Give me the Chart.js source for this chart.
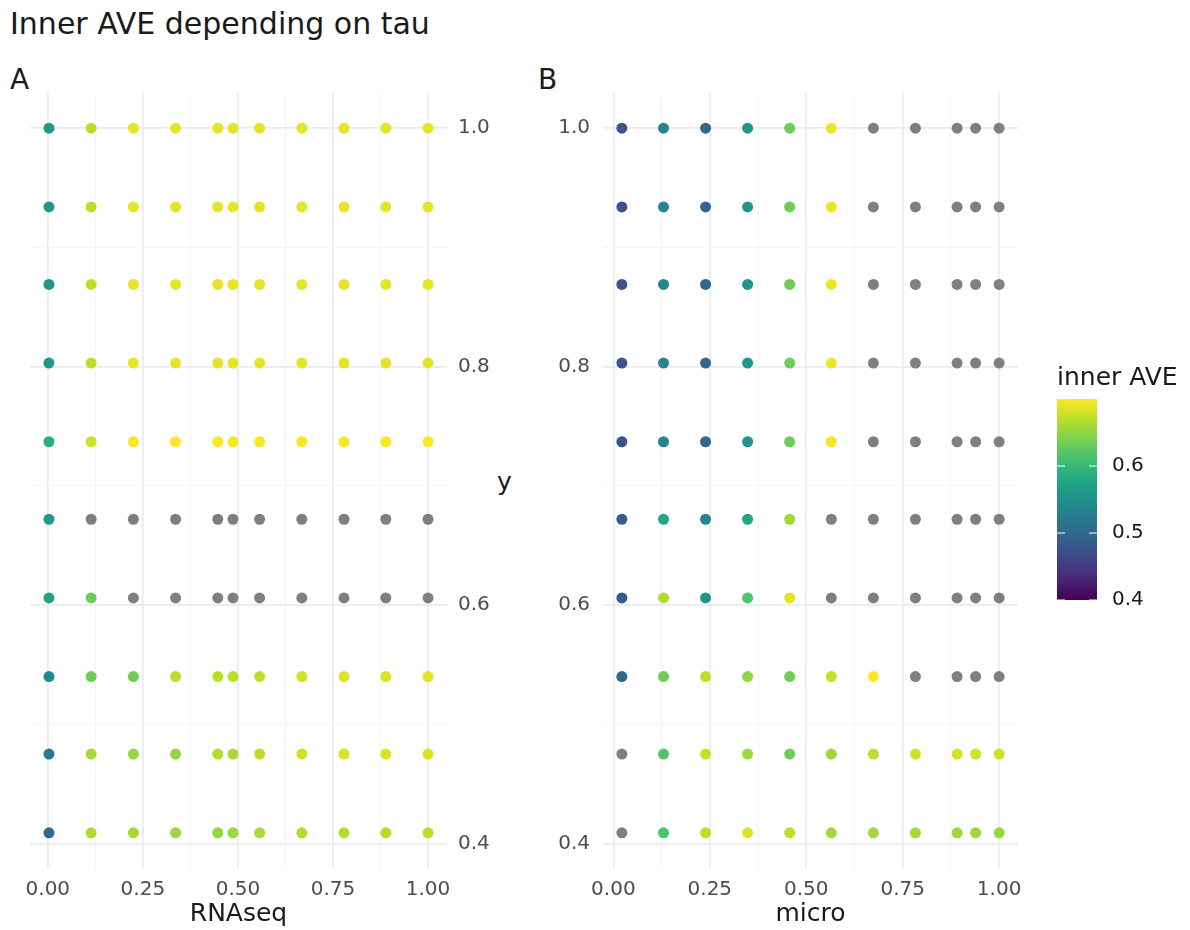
<!DOCTYPE html>
<html>
<head>
<meta charset="utf-8">
<script src="https://cdn.jsdelivr.net/npm/chart.js@4/dist/chart.umd.min.js"></script>
<style>
  body { margin: 0; background: #fff; width: 1190px; height: 930px; position: relative; overflow: hidden; font-family: "DejaVu Sans", sans-serif; }
  .txt { position: absolute; white-space: nowrap; line-height: 1; color: #000; }
  #boxA { position: absolute; left: 0; top: 60px; width: 530px; height: 870px; }
  #boxB { position: absolute; left: 540px; top: 60px; width: 650px; height: 870px; }
</style>
</head>
<body>
<div class="txt" style="left:10px;top:9px;font-size:30px;color:#1a1a1a">Inner AVE depending on tau</div>
<div class="txt" style="left:10px;top:66px;font-size:28px;color:#1a1a1a">A</div>
<div class="txt" style="left:538px;top:66px;font-size:28px;color:#1a1a1a">B</div>
<div class="txt" style="left:497px;top:469px;font-size:25px;color:#1a1a1a">y</div>
<div id="boxA"><canvas id="chartA"></canvas></div>
<div id="boxB"><canvas id="chartB"></canvas></div>
<script>
// tau values on the y axis (rows, top to bottom)
const tauY = [1.0, 0.934, 0.869, 0.803, 0.737, 0.672, 0.606, 0.540, 0.475, 0.409];
// tau values on the x axis of each panel
const rnaseqX = [0.003, 0.114, 0.225, 0.336, 0.447, 0.487, 0.557, 0.668, 0.779, 0.889, 1.0];
const microX = [0.022, 0.130, 0.239, 0.348, 0.457, 0.565, 0.674, 0.783, 0.891, 0.939, 1.0];

// inner AVE, one row per tauY entry, null = NA (grey point)
const aveRNAseq = [
  [0.559, 0.670, 0.689, 0.689, 0.689, 0.689, 0.689, 0.689, 0.689, 0.689, 0.689],
  [0.559, 0.670, 0.689, 0.689, 0.689, 0.689, 0.689, 0.689, 0.689, 0.689, 0.689],
  [0.559, 0.670, 0.689, 0.689, 0.689, 0.689, 0.689, 0.689, 0.689, 0.689, 0.689],
  [0.559, 0.670, 0.689, 0.689, 0.689, 0.689, 0.689, 0.689, 0.689, 0.689, 0.689],
  [0.590, 0.679, 0.699, 0.699, 0.698, 0.698, 0.698, 0.698, 0.698, 0.698, 0.698],
  [0.562, null, null, null, null, null, null, null, null, null, null],
  [0.571, 0.633, null, null, null, null, null, null, null, null, null],
  [0.541, 0.634, 0.633, 0.668, 0.669, 0.669, 0.672, 0.680, 0.685, 0.685, 0.688],
  [0.523, 0.660, 0.652, 0.650, 0.665, 0.662, 0.668, 0.680, 0.685, 0.685, 0.685],
  [0.502, 0.664, 0.658, 0.656, 0.652, 0.656, 0.661, 0.664, 0.666, 0.666, 0.668]
];
const aveMicro = [
  [0.477, 0.538, 0.497, 0.556, 0.633, 0.693, null, null, null, null, null],
  [0.477, 0.538, 0.497, 0.556, 0.633, 0.693, null, null, null, null, null],
  [0.477, 0.538, 0.497, 0.556, 0.633, 0.693, null, null, null, null, null],
  [0.477, 0.538, 0.497, 0.556, 0.633, 0.693, null, null, null, null, null],
  [0.477, 0.538, 0.497, 0.556, 0.633, 0.695, null, null, null, null, null],
  [0.486, 0.577, 0.535, 0.577, 0.658, null, null, null, null, null, null],
  [0.486, 0.664, 0.556, 0.616, 0.688, null, null, null, null, null, null],
  [0.499, 0.633, 0.670, 0.649, 0.634, 0.673, 0.700, null, null, null, null],
  [null, 0.616, 0.676, 0.655, 0.633, 0.655, 0.670, 0.680, 0.680, 0.680, 0.678],
  [null, 0.615, 0.670, 0.685, 0.670, 0.658, 0.658, 0.658, 0.656, 0.656, 0.656]
];

const xMajor = [0, 0.25, 0.5, 0.75, 1.0];
const xMinor = [0.125, 0.375, 0.625, 0.875];
const yMajor = [0.4, 0.6, 0.8, 1.0];
const yMinor = [0.5, 0.7, 0.9];
const legendTicks = [0.4, 0.5, 0.6];
const aveMin = 0.4, aveMax = 0.7;

const viridisStops = ['#440154', '#482576', '#414487', '#35608D', '#2A788E', '#21908C',
                      '#22A884', '#43BF71', '#7AD151', '#BBDF27', '#FDE725'];
const naColor = '#7f7f7f';

function hexRgb(h) {
  return [parseInt(h.slice(1, 3), 16), parseInt(h.slice(3, 5), 16), parseInt(h.slice(5, 7), 16)];
}

function viridis(t) {
  t = Math.max(0, Math.min(1, t));
  const p = t * (viridisStops.length - 1);
  const i = Math.min(Math.floor(p), viridisStops.length - 2);
  const f = p - i;
  const a = hexRgb(viridisStops[i]), b = hexRgb(viridisStops[i + 1]);
  const c = a.map((v, k) => Math.round(v + (b[k] - v) * f));
  return `rgb(${c[0]},${c[1]},${c[2]})`;
}

function aveColor(v) {
  if (v === null || v === undefined) return naColor;
  return viridis((v - aveMin) / (aveMax - aveMin));
}

function toPoints(xs, rows) {
  const pts = [];
  rows.forEach((row, i) => row.forEach((v, j) => pts.push({ x: xs[j], y: tauY[i], v: v })));
  return pts;
}

// ggplot-style 5% expansion of the data range
function expand(arr) {
  const lo = Math.min(...arr), hi = Math.max(...arr);
  const pad = (hi - lo) * 0.05;
  return { min: lo - pad, max: hi + pad };
}

const isIn = (list, v) => list.some(m => Math.abs(m - v) < 1e-9);

function gridFor(major) {
  return {
    drawTicks: false,
    color: ctx => isIn(major, ctx.tick.value) ? '#ebebeb' : '#f3f3f3',
    lineWidth: ctx => isIn(major, ctx.tick.value) ? 1.7 : 0.9
  };
}

const tickFont = { family: 'DejaVu Sans', size: 20 };
const titleFont = { family: 'DejaVu Sans', size: 25 };

// colour bar legend for inner AVE, drawn to the right of panel B
const colorBar = {
  id: 'colorBar',
  afterDraw(chart) {
    const ctx = chart.ctx;
    const left = 517, width = 40, top = 339, bottom = 540;
    ctx.save();
    ctx.fillStyle = '#1a1a1a';
    ctx.font = '25px "DejaVu Sans"';
    ctx.textBaseline = 'alphabetic';
    ctx.textAlign = 'left';
    ctx.fillText('inner AVE', left, 325);

    const grad = ctx.createLinearGradient(0, bottom, 0, top);
    viridisStops.forEach((c, i) => grad.addColorStop(i / (viridisStops.length - 1), c));
    ctx.fillStyle = grad;
    ctx.fillRect(left, top, width, bottom - top);

    ctx.strokeStyle = '#ffffff';
    ctx.lineWidth = 1;
    ctx.fillStyle = '#1a1a1a';
    ctx.font = '20px "DejaVu Sans"';
    ctx.textBaseline = 'middle';
    legendTicks.forEach(v => {
      const y = bottom - (v - aveMin) / (aveMax - aveMin) * (bottom - top);
      ctx.beginPath();
      ctx.moveTo(left, y); ctx.lineTo(left + 8, y);
      ctx.moveTo(left + width - 8, y); ctx.lineTo(left + width, y);
      ctx.stroke();
      ctx.fillText(v.toFixed(1), left + width + 15, y);
    });
    ctx.restore();
  }
};

function makePanel(id, xs, rows, xTitle, yPos, yWidth, yPad, layoutPad, plugins) {
  const xr = expand(xs), yr = expand(tauY);
  return new Chart(document.getElementById(id), {
    type: 'scatter',
    data: {
      datasets: [{
        data: toPoints(xs, rows),
        pointRadius: 5.5,
        pointHoverRadius: 5.5,
        pointBorderWidth: 0,
        pointBackgroundColor: ctx => aveColor(ctx.raw ? ctx.raw.v : null),
        pointBorderColor: ctx => aveColor(ctx.raw ? ctx.raw.v : null)
      }]
    },
    options: {
      responsive: true,
      maintainAspectRatio: false,
      animation: false,
      layout: { padding: layoutPad },
      plugins: { legend: { display: false }, tooltip: { enabled: false } },
      scales: {
        x: {
          type: 'linear',
          min: xr.min,
          max: xr.max,
          border: { display: false },
          grid: gridFor(xMajor),
          afterBuildTicks: s => { s.ticks = [...xMajor, ...xMinor].sort((a, b) => a - b).map(v => ({ value: v })); },
          afterFit: s => { s.height = 62; },
          ticks: {
            autoSkip: false,
            maxRotation: 0,
            padding: 10,
            color: '#4d4d4d',
            font: tickFont,
            callback: v => isIn(xMajor, v) ? v.toFixed(2) : ''
          },
          title: { display: true, text: xTitle, color: '#1a1a1a', font: titleFont, padding: { top: 0, bottom: 1 } }
        },
        y: {
          type: 'linear',
          position: yPos,
          min: yr.min,
          max: yr.max,
          border: { display: false },
          grid: gridFor(yMajor),
          afterBuildTicks: s => { s.ticks = [...yMajor, ...yMinor].sort((a, b) => a - b).map(v => ({ value: v })); },
          afterFit: s => { s.width = yWidth; },
          ticks: {
            autoSkip: false,
            padding: yPad,
            color: '#4d4d4d',
            font: tickFont,
            callback: v => isIn(yMajor, v) ? v.toFixed(1) : ''
          }
        }
      }
    },
    plugins: plugins
  });
}

makePanel('chartA', rnaseqX, aveRNAseq, 'RNAseq', 'right', 83, 11,
  { left: 30, top: 33, right: 0, bottom: 0 }, []);
makePanel('chartB', microX, aveMicro, 'micro', 'left', 63, 13,
  { left: 0, top: 33, right: 172, bottom: 0 }, [colorBar]);
</script>
</body>
</html>
